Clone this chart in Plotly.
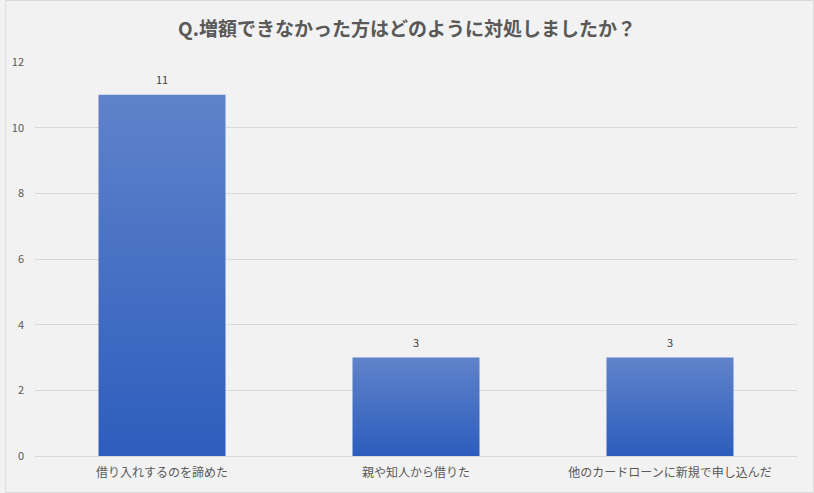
import plotly.graph_objects as go

categories = ["借り入れするのを諦めた", "親や知人から借りた", "他のカードローンに新規で申し込んだ"]
values = [11, 3, 3]
y_ticks = [0, 2, 4, 6, 8, 10, 12]
title_text = "Q.増額できなかった方はどのように対処しましたか？"

W, H = 814, 493
ML, MR, MT, MB = 30, 17, 62, 37
PW, PH = W - ML - MR, H - MT - MB

half = 0.25
fig = go.Figure()
for i, v in enumerate(values):
    fig.add_trace(go.Scatter(
        x=[i - half, i + half, i + half, i - half, i - half],
        y=[0, 0, v, v, 0],
        mode="lines", fill="toself",
        line=dict(width=0, color="rgba(0,0,0,0)"),
        fillgradient=dict(type="vertical",
                          colorscale=[[0, "#2d5dbd"], [1, "#5f83ca"]]),
        hoverinfo="skip", showlegend=False,
    ))

annotations = [
    dict(x=i, y=v, xref="x", yref="y", text=str(v), showarrow=False,
         yanchor="bottom", yshift=6,
         font=dict(size=11, color="#404040", family="Noto Sans CJK JP"))
    for i, v in enumerate(values)
]

fig.update_layout(
    width=W, height=H,
    margin=dict(l=ML, r=MR, t=MT, b=MB),
    paper_bgcolor="#f2f2f2", plot_bgcolor="#f2f2f2",
    title=dict(text="<b>" + title_text + "</b>", x=0.5, xanchor="center",
               y=1 - 29 / H, yanchor="middle",
               font=dict(size=19, color="#595959", family="Noto Sans CJK JP")),
    font=dict(family="Noto Sans CJK JP", color="#595959"),
    annotations=annotations,
    shapes=[dict(type="rect", xref="paper", yref="paper",
                 x0=-(ML - 0.5) / PW, x1=1 + (MR - 0.5) / PW,
                 y0=-(MB - 0.5) / PH, y1=1 + (MT - 0.5) / PH,
                 line=dict(color="#d9d9d9", width=1), layer="below")],
)
fig.update_xaxes(
    range=[-0.5, len(values) - 0.5], tickmode="array",
    tickvals=list(range(len(values))), ticktext=categories,
    showgrid=False, zeroline=False, showline=True, linecolor="#d9d9d9",
    tickfont=dict(size=12, color="#595959"), ticks="", ticklabelstandoff=6,
)
fig.update_yaxes(
    range=[0, 12], tickvals=y_ticks, showgrid=True, gridcolor="#d9d9d9",
    zeroline=False, showline=False,
    tickfont=dict(size=11, color="#595959"), ticks="", ticklabelstandoff=10,
)

fig.write_html("out.html")
